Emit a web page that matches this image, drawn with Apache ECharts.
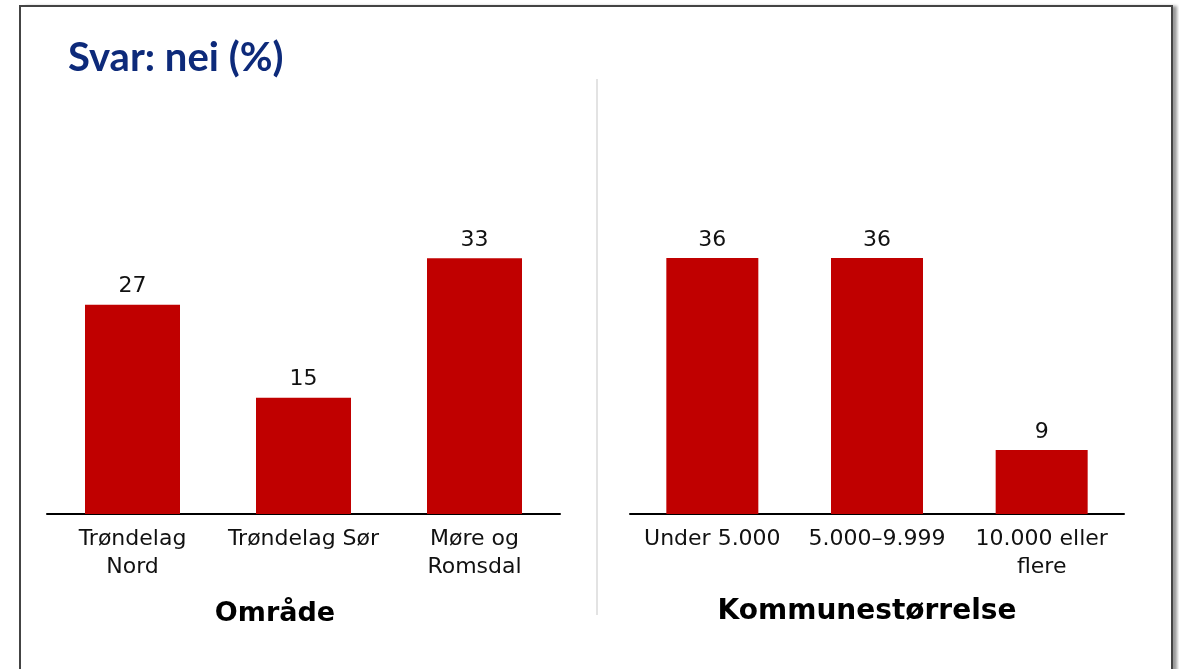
<!DOCTYPE html>
<html>
<head>
<meta charset="utf-8">
<script src="https://cdn.jsdelivr.net/npm/echarts@6/dist/echarts.min.js"></script>
<style>
  html, body { margin: 0; padding: 0; background: #fff; }
  #main { width: 1179px; height: 669px; }
</style>
</head>
<body>
<div id="main"></div>
<script>
// Område
var areaCats = ['Trøndelag\nNord', 'Trøndelag Sør', 'Møre og\nRomsdal'];
var areaVals = [27, 15, 33];
// Kommunestørrelse
var sizeCats = ['Under 5.000', '5.000–9.999', '10.000 eller\nflere'];
var sizeVals = [36, 36, 9];

var font = 'DejaVu Sans';
var red = '#c00000';

var myChart = echarts.init(document.getElementById('main'));

var option = {
    backgroundColor: '#fff',
    animation: false,
    title: {
        text: 'Svar: nei (%)',
        left: 63,
        top: 33,
        textStyle: { fontFamily: 'Lato', fontWeight: 'bold', fontSize: 40, color: '#0d2a7a' }
    },
    graphic: [
        // slide: white fill casting a shadow to the right
        {
            type: 'rect', z: -10, silent: true,
            shape: { x: 20, y: 6, width: 1152, height: 700 },
            style: { fill: '#fff', shadowBlur: 3, shadowOffsetX: 5, shadowOffsetY: 0, shadowColor: 'rgba(0,0,0,0.4)' }
        },
        // slide border
        {
            type: 'rect', z: -9, silent: true,
            shape: { x: 20, y: 6, width: 1152, height: 700 },
            style: { fill: null, stroke: '#444', lineWidth: 2 }
        },
        // divider
        {
            type: 'line', silent: true,
            shape: { x1: 597, y1: 79, x2: 597, y2: 615 },
            style: { stroke: '#e3e3e3', lineWidth: 2 }
        },
        {
            type: 'text', x: 275, y: 614,
            style: { text: 'Område', fontFamily: font, fontWeight: 'bold', fontSize: 27,
                     fill: '#000', align: 'center', verticalAlign: 'middle' }
        },
        {
            type: 'text', x: 867, y: 612,
            style: { text: 'Kommunestørrelse', fontFamily: font, fontWeight: 'bold', fontSize: 28,
                     fill: '#000', align: 'center', verticalAlign: 'middle' }
        }
    ],
    grid: [
        { left: 47, width: 513, top: 100, bottom: 155 },
        { left: 630, width: 494, top: 100, bottom: 155 }
    ],
    xAxis: [0, 1].map(function (i) {
        return {
            type: 'category',
            gridIndex: i,
            data: i === 0 ? areaCats : sizeCats,
            axisLine: { lineStyle: { color: '#000', width: 2 } },
            axisTick: { show: false },
            axisLabel: { fontFamily: font, fontSize: 22, lineHeight: 28, color: '#111', margin: 11, interval: 0 }
        };
    }),
    yAxis: [
        { type: 'value', gridIndex: 0, min: 0, max: 53.4, show: false },
        { type: 'value', gridIndex: 1, min: 0, max: 58.2, show: false }
    ],
    series: [
        {
            type: 'bar', xAxisIndex: 0, yAxisIndex: 0,
            data: areaVals, barWidth: 95,
            itemStyle: { color: red },
            label: { show: true, position: 'top', distance: 7, fontFamily: font, fontSize: 22, color: '#111' }
        },
        {
            type: 'bar', xAxisIndex: 1, yAxisIndex: 1,
            data: sizeVals, barWidth: 92,
            itemStyle: { color: red },
            label: { show: true, position: 'top', distance: 7, fontFamily: font, fontSize: 22, color: '#111' }
        }
    ]
};

myChart.setOption(option);
</script>
</body>
</html>
